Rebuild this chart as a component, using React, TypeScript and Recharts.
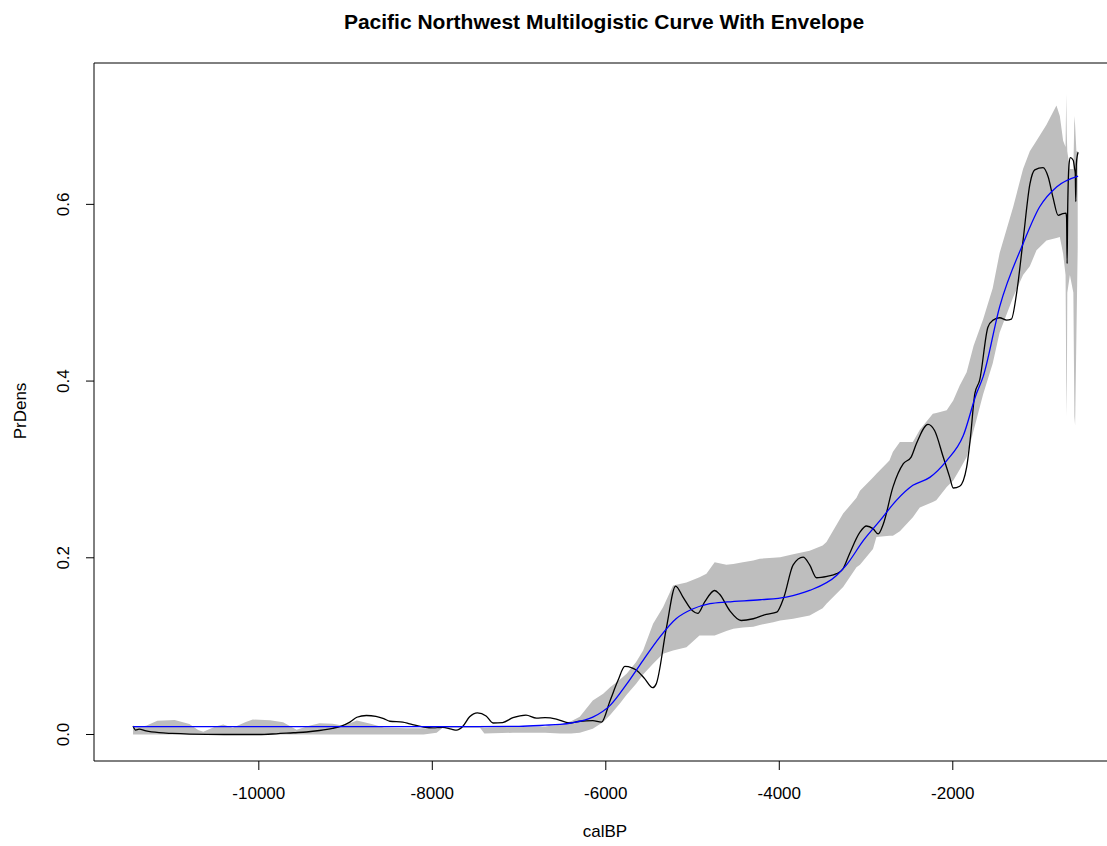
import { ComposedChart, Area, Line, XAxis, YAxis, ReferenceLine } from "recharts";

// Summed probability density (black trace)
const spdYears = [
  -11450, -11420, -11380, -11300, -11150, -11000, -10800, -10400, -10000, -9800,
  -9600, -9450, -9300, -9150, -9050, -8950, -8870, -8760, -8650, -8560,
  -8490, -8340, -8260, -8100, -7990, -7880, -7780, -7720, -7650, -7570,
  -7480, -7380, -7300, -7190, -7070, -6920, -6800, -6700, -6570, -6420,
  -6300, -6150, -6050, -5950, -5860, -5780, -5700, -5650, -5550, -5460,
  -5420, -5300, -5195, -5110, -5000, -4940, -4860, -4745, -4690, -4570,
  -4440, -4300, -4150, -4030, -3945, -3840, -3725, -3650, -3570, -3450,
  -3340, -3265, -3190, -3070, -2995, -2920, -2860, -2800, -2690, -2570,
  -2480, -2420, -2285, -2210, -2110, -2035, -1995, -1920, -1840, -1800,
  -1745, -1690, -1595, -1535, -1460, -1380, -1325, -1265, -1190, -1110,
  -1055, -960, -900, -845, -785, -730, -695, -688, -682, -676,
  -660, -645, -612, -595, -588, -582, -576, -565, -555,
];
const spdDens = [
  0.0096, 0.005, 0.006, 0.004, 0.002, 0.0012, 0.0005, 0.0, 0.0, 0.0008,
  0.002, 0.0028, 0.0045, 0.007, 0.0095, 0.014, 0.0195, 0.0215, 0.0205, 0.018,
  0.015, 0.014, 0.012, 0.0085, 0.0075, 0.008, 0.006, 0.005, 0.009, 0.02,
  0.0245, 0.021, 0.013, 0.0135, 0.019, 0.022, 0.0185, 0.019, 0.0175, 0.013,
  0.015, 0.0158, 0.014, 0.0385, 0.061, 0.077, 0.0755, 0.073, 0.063, 0.053,
  0.057, 0.1215, 0.168, 0.1555, 0.14, 0.137, 0.15, 0.163, 0.159, 0.14,
  0.129, 0.131, 0.136, 0.1385, 0.156, 0.192, 0.2007, 0.192, 0.1774, 0.179,
  0.182, 0.1876, 0.2046, 0.229, 0.236, 0.233, 0.227, 0.2385, 0.28, 0.3065,
  0.314, 0.329, 0.351, 0.344, 0.314, 0.291, 0.279, 0.281, 0.3026, 0.333,
  0.386, 0.401, 0.461, 0.469, 0.4717, 0.469, 0.47, 0.499, 0.559, 0.6235,
  0.639, 0.6416, 0.631, 0.608, 0.5876, 0.5895, 0.59, 0.585, 0.533, 0.59,
  0.645, 0.653, 0.65, 0.64, 0.635, 0.603, 0.645, 0.655, 0.659,
];

// Fitted multilogistic curve (blue)
const fitYears = [
  -11450, -10000, -8000, -7000, -6700, -6530, -6400, -6150, -5950, -5760,
  -5570, -5380, -5190, -5000, -4800, -4600, -4220, -3920, -3650, -3340,
  -3225, -3030, -2840, -2650, -2460, -2265, -2070, -1880, -1730, -1650,
  -1460, -1190, -1000, -800, -555,
];
const fitDens = [
  0.0088, 0.0088, 0.0088, 0.0092, 0.0105, 0.0115, 0.013, 0.0196, 0.033, 0.057,
  0.084, 0.11, 0.131, 0.142, 0.148, 0.15, 0.1525, 0.1555, 0.163, 0.18,
  0.192, 0.2196, 0.242, 0.265, 0.282, 0.291, 0.31, 0.338, 0.385, 0.405,
  0.484, 0.5555, 0.597, 0.62, 0.632,
];

// Simulation envelope (grey band)
const envYears = [
  -11450, -11300, -11170, -10970, -10800, -10700, -10640, -10500, -10410, -10300,
  -10150, -10070, -9870, -9720, -9565, -9420, -9300, -9150, -9020, -8870,
  -8700, -8560, -8300, -8100, -7950, -7880, -7450, -7400, -7070, -6700,
  -6530, -6400, -6300, -6150, -6030, -5950, -5840, -5760, -5650, -5570,
  -5455, -5340, -5225, -5070, -4920, -4840, -4745, -4610, -4530, -4420,
  -4300, -4225, -4070, -3990, -3840, -3650, -3500, -3456, -3264, -3110,
  -3070, -2920, -2880, -2730, -2690, -2610, -2460, -2380, -2230, -2190,
  -2070, -1995, -1920, -1840, -1760, -1650, -1540, -1460, -1304, -1190,
  -1112, -1035, -920, -805, -766, -728, -700, -692, -686, -680,
  -650, -610, -598, -590, -575, -560,
];
const envLow = [
  0, 0, 0, 0, 0, 0, 0, 0, 0, 0,
  0, 0, 0, 0, 0, 0, 0, 0, 0, 0,
  0, 0, 0, 0, 0.002, 0.0075, 0.0075, 0.001, 0.002, 0.002,
  0.001, 0.001, 0.002, 0.0064, 0.014, 0.022, 0.0347, 0.045, 0.0574, 0.068,
  0.08, 0.0913, 0.095, 0.0988, 0.112, 0.112, 0.112, 0.117, 0.1196, 0.121,
  0.122, 0.124, 0.127, 0.129, 0.131, 0.1347, 0.143, 0.148, 0.1668, 0.1894,
  0.192, 0.21, 0.2234, 0.225, 0.225, 0.23, 0.246, 0.257, 0.263, 0.265,
  0.28, 0.2875, 0.3, 0.314, 0.344, 0.385, 0.42, 0.455, 0.495, 0.52,
  0.53, 0.548, 0.559, 0.562, 0.563, 0.544, 0.52, 0.4, 0.36, 0.5,
  0.52, 0.5, 0.36, 0.35, 0.45, 0.55,
];
const envHigh = [
  0.008, 0.01, 0.0155, 0.0165, 0.012, 0.005, 0.003, 0.009, 0.0113, 0.0075,
  0.014, 0.017, 0.016, 0.0138, 0.0053, 0.01, 0.0128, 0.0121, 0.01, 0.0158,
  0.012, 0.008, 0.007, 0.007, 0.0065, 0.0085, 0.0085, 0.008, 0.009, 0.009,
  0.011, 0.015, 0.02, 0.0385, 0.046, 0.0536, 0.062, 0.0687, 0.082, 0.095,
  0.1253, 0.144, 0.1687, 0.172, 0.178, 0.182, 0.195, 0.192, 0.193, 0.195,
  0.197, 0.199, 0.2, 0.2007, 0.204, 0.208, 0.214, 0.218, 0.25, 0.268,
  0.276, 0.291, 0.295, 0.31, 0.32, 0.331, 0.331, 0.345, 0.363, 0.364,
  0.367, 0.378, 0.395, 0.41, 0.44, 0.47, 0.505, 0.545, 0.597, 0.64,
  0.66, 0.672, 0.69, 0.712, 0.7, 0.672, 0.665, 0.725, 0.68, 0.66,
  0.64, 0.64, 0.7, 0.69, 0.66, 0.66,
];

const xTicks = [-10000, -8000, -6000, -4000, -2000];
const yTicks = [0, 0.2, 0.4, 0.6];

const X_DOMAIN: [number, number] = [-11900, -130];
const Y_DOMAIN: [number, number] = [-0.03, 0.76];

const spdData = spdYears.map((year, i) => ({ year, dens: spdDens[i] }));
const fitData = fitYears.map((year, i) => ({ year, dens: fitDens[i] }));
const envData = envYears.map((year, i) => ({ year, band: [envLow[i], envHigh[i]] }));

const FONT = '"Liberation Sans", Arial, Helvetica, sans-serif';

const XTick = (props: any) => {
  const { x, y, payload } = props;
  return (
    <text x={x} y={y} dy={27} textAnchor="middle" fontSize={17} fontFamily={FONT} fill="#000">
      {payload.value}
    </text>
  );
};

// y labels run bottom-to-top, like R's default las = 0
const YTick = (props: any) => {
  const { x, y, payload } = props;
  const bx = x - 15;
  return (
    <text
      x={bx}
      y={y}
      transform={`rotate(-90 ${bx} ${y})`}
      textAnchor="middle"
      fontSize={17}
      fontFamily={FONT}
      fill="#000"
    >
      {Number(payload.value).toFixed(1)}
    </text>
  );
};

export default function App() {
  return (
    <div
      style={{
        position: "absolute",
        left: 0,
        top: 0,
        width: 1107,
        height: 846,
        overflow: "hidden",
        background: "#fff",
        fontFamily: FONT,
      }}
    >
      <div
        style={{
          position: "absolute",
          left: 604,
          top: 22,
          transform: "translate(-50%, -50%)",
          fontSize: 21,
          fontWeight: "bold",
          whiteSpace: "nowrap",
        }}
      >
        Pacific Northwest Multilogistic Curve With Envelope
      </div>
      <div
        style={{
          position: "absolute",
          left: 605,
          top: 832,
          transform: "translate(-50%, -50%)",
          fontSize: 17,
          whiteSpace: "nowrap",
        }}
      >
        calBP
      </div>
      <div
        style={{
          position: "absolute",
          left: 21,
          top: 411,
          transform: "translate(-50%, -50%) rotate(-90deg)",
          fontSize: 17,
          whiteSpace: "nowrap",
        }}
      >
        PrDens
      </div>

      <ComposedChart width={1116} height={846} margin={{ top: 63, right: 1, bottom: 0, left: 0 }}>
        <XAxis
          dataKey="year"
          type="number"
          domain={X_DOMAIN}
          ticks={xTicks}
          allowDataOverflow
          height={85}
          tickSize={9}
          tickMargin={2}
          axisLine={{ stroke: "#000", strokeWidth: 1 }}
          tickLine={{ stroke: "#000", strokeWidth: 1 }}
          tick={<XTick />}
          interval={0}
        />
        <YAxis
          type="number"
          domain={Y_DOMAIN}
          ticks={yTicks}
          allowDataOverflow
          width={94}
          tickSize={8}
          tickMargin={2}
          axisLine={{ stroke: "#000", strokeWidth: 1 }}
          tickLine={{ stroke: "#000", strokeWidth: 1 }}
          tick={<YTick />}
          interval={0}
        />
        <ReferenceLine y={Y_DOMAIN[1]} stroke="#000" strokeWidth={1} />
        <Area
          data={envData}
          dataKey="band"
          type="linear"
          stroke="none"
          fill="#BEBEBE"
          fillOpacity={1}
          dot={false}
          activeDot={false}
          isAnimationActive={false}
        />
        <Line
          data={spdData}
          dataKey="dens"
          type="monotoneX"
          stroke="#000"
          strokeWidth={1.3}
          dot={false}
          activeDot={false}
          isAnimationActive={false}
        />
        <Line
          data={fitData}
          dataKey="dens"
          type="monotone"
          stroke="#0000FF"
          strokeWidth={1.3}
          dot={false}
          activeDot={false}
          isAnimationActive={false}
        />
      </ComposedChart>
    </div>
  );
}
